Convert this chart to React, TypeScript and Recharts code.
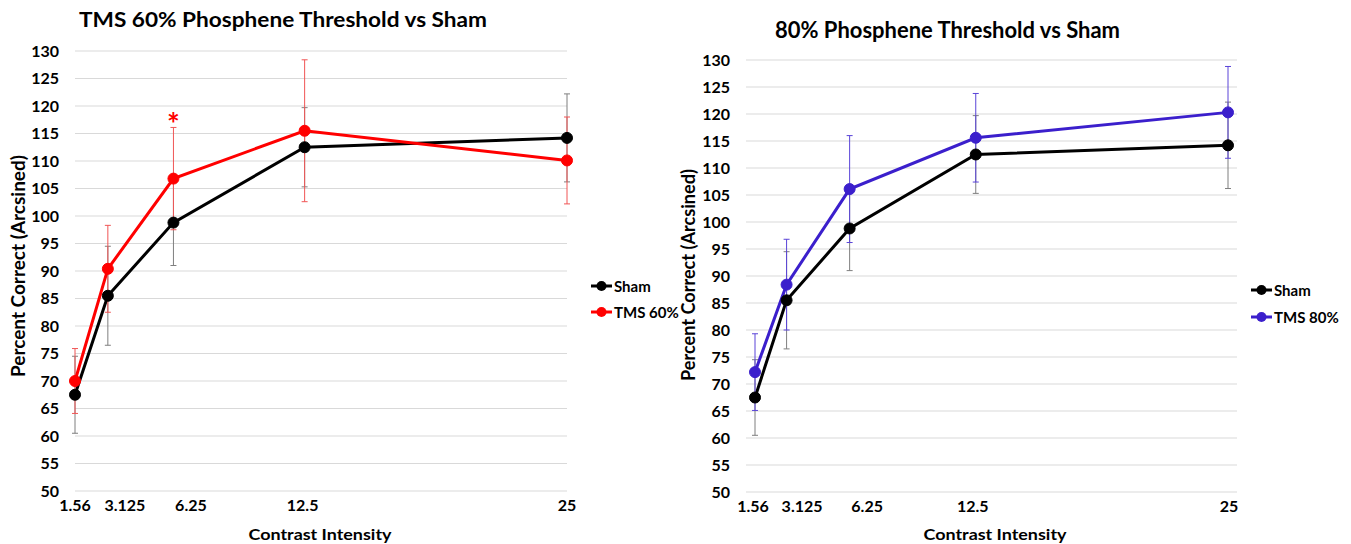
import React from 'react';
import { LineChart, Line, XAxis, YAxis, CartesianGrid, ErrorBar, ReferenceDot } from 'recharts';

// ---- data ----
const contrast = [1.56, 3.125, 6.25, 12.5, 25];
const xTickLabels = ['1.56', '3.125', '6.25', '12.5', '25'];
const yTicks = [50, 55, 60, 65, 70, 75, 80, 85, 90, 95, 100, 105, 110, 115, 120, 125, 130];

const shamMean = [67.5, 85.5, 98.8, 112.5, 114.2];
const shamErr = [7.0, 9.0, 7.8, 7.2, 8.0];

const tms60Mean = [70.0, 90.4, 106.8, 115.5, 110.1];
const tms60Err = [5.9, 7.9, 9.3, 12.9, 7.9];
const tms60Significant = [false, false, true, false, false];

const tms80Mean = [72.2, 88.4, 106.1, 115.6, 120.3];
const tms80Err = [7.1, 8.4, 9.9, 8.2, 8.5];

// ---- style ----
const FONT = 'Lato, "Open Sans", sans-serif';
const BLACK = '#000000';
const RED = '#ff0000';
const BLUE = '#3b1fcc';
// the original tick labels are nudged sideways from their points (manual text placement)
const leftTickNudge = [0, 17, 17.5, -2, 0];
const rightTickNudge = [-2, 15.5, 17.5, -3, 1];

const build = (mean: number[], err: number[]) =>
  contrast.map((x, i) => ({ x, sham: shamMean[i], shamErr: shamErr[i], tms: mean[i], tmsErr: err[i] }));

const leftData = build(tms60Mean, tms60Err);
const rightData = build(tms80Mean, tms80Err);

const tickStyle = { fontFamily: FONT, fontSize: 16, fontWeight: 700, fill: '#000' };

const makeXTick = (nudge: number[]) => (p: any) => {
  const idx = contrast.indexOf(p.payload.value);
  const dx = idx >= 0 ? nudge[idx] : 0;
  return (
    <text
      x={p.x + dx}
      y={p.y}
      dy="0.71em"
      textAnchor="middle"
      fontFamily={FONT}
      fontSize={16}
      fontWeight={700}
      fill="#000"
    >
      {idx >= 0 ? xTickLabels[idx] : String(p.payload.value)}
    </text>
  );
};

function Panel(props: {
  data: any[];
  width: number;
  margin: { top: number; right: number; bottom: number; left: number };
  yWidth: number;
  xHeight: number;
  xPad: number;
  color: string;
  errColor: string;
  nudge: number[];
  sig?: boolean[];
}) {
  const { data, width, margin, yWidth, xHeight, xPad, color, errColor, nudge, sig } = props;
  return (
    <LineChart width={width} height={544} data={data} margin={margin}>
      <CartesianGrid horizontal vertical={false} stroke="#d9d9d9" strokeWidth={1.2} />
      <XAxis
        type="number"
        dataKey="x"
        domain={[1.56, 25]}
        ticks={contrast}
        axisLine={false}
        tickLine={false}
        tickSize={0}
        tickMargin={9}
        height={xHeight}
        padding={{ left: xPad, right: xPad }}
        tick={makeXTick(nudge)}
        interval={0}
      />
      <YAxis
        type="number"
        domain={[50, 130]}
        ticks={yTicks}
        axisLine={false}
        tickLine={false}
        tickSize={0}
        tickMargin={16}
        width={yWidth}
        tick={tickStyle}
        interval={0}
      />
      <Line
        dataKey="sham"
        stroke={BLACK}
        strokeWidth={3}
        dot={{ r: 5.5, fill: BLACK, stroke: BLACK, strokeWidth: 1 }}
        isAnimationActive={false}
      >
        <ErrorBar dataKey="shamErr" direction="y" stroke="#7f7f7f" strokeWidth={1} width={3} />
      </Line>
      <Line
        dataKey="tms"
        stroke={color}
        strokeWidth={3}
        dot={{ r: 5.5, fill: color, stroke: color, strokeWidth: 1 }}
        isAnimationActive={false}
      >
        <ErrorBar dataKey="tmsErr" direction="y" stroke={errColor} strokeWidth={1} width={3} />
      </Line>
      {sig &&
        data.map((d, i) =>
          sig[i] ? (
            <ReferenceDot
              key={i}
              x={d.x}
              y={d.tms + d.tmsErr + 0.5}
              r={0}
              stroke="none"
              fill="none"
              label={{ value: '*', position: 'center', fill: RED, fontSize: 30, fontWeight: 700, fontFamily: FONT }}
            />
          ) : null
        )}
    </LineChart>
  );
}

function LegendItem({ x, y, color, text }: { x: number; y: number; color: string; text: string }) {
  return (
    <g>
      <line x1={x} y1={y} x2={x + 21} y2={y} stroke={color} strokeWidth={3} />
      <circle cx={x + 10.5} cy={y} r={5} fill={color} />
      <text x={x + 23} y={y} dominantBaseline="central" fontFamily={FONT} fontSize={15} fontWeight={700} fill="#000">
        {text}
      </text>
    </g>
  );
}

export default function App() {
  const bold = { fontFamily: FONT, fontWeight: 700, fill: '#000' } as const;
  return (
    <div style={{ position: 'absolute', left: 0, top: 0, width: 1351, height: 544, background: '#fff' }}>
      <div style={{ position: 'absolute', left: 0, top: 0 }}>
        <Panel
          data={leftData}
          width={700}
          margin={{ top: 51, right: 133, bottom: 0, left: 0 }}
          yWidth={75}
          xHeight={53}
          xPad={0}
          color={RED}
          errColor="#f05555"
          nudge={leftTickNudge}
          sig={tms60Significant}
        />
      </div>
      <div style={{ position: 'absolute', left: 670, top: 0 }}>
        <Panel
          data={rightData}
          width={681}
          margin={{ top: 60, right: 114, bottom: 0, left: 0 }}
          yWidth={76}
          xHeight={52}
          xPad={9}
          color={BLUE}
          errColor="#5a44d8"
          nudge={rightTickNudge}
        />
      </div>
      <svg width={1351} height={544} style={{ position: 'absolute', left: 0, top: 0, pointerEvents: 'none' }}>
        <text x={283} y={27} textAnchor="middle" fontSize={21.5} textLength={408} lengthAdjust="spacingAndGlyphs" {...bold}>
          TMS 60% Phosphene Threshold vs Sham
        </text>
        <text x={947.5} y={38} textAnchor="middle" fontSize={22} textLength={345} lengthAdjust="spacingAndGlyphs" {...bold}>
          80% Phosphene Threshold vs Sham
        </text>
        <text
          transform="translate(18,266) rotate(-90)"
          textAnchor="middle"
          dominantBaseline="central"
          fontSize={18}
          textLength={222}
          lengthAdjust="spacingAndGlyphs"
          {...bold}
        >
          Percent Correct (Arcsined)
        </text>
        <text
          transform="translate(688,275) rotate(-90)"
          textAnchor="middle"
          dominantBaseline="central"
          fontSize={18}
          textLength={212}
          lengthAdjust="spacingAndGlyphs"
          {...bold}
        >
          Percent Correct (Arcsined)
        </text>
        <text x={320} y={540} textAnchor="middle" fontSize={15.5} textLength={143} lengthAdjust="spacingAndGlyphs" {...bold}>
          Contrast Intensity
        </text>
        <text x={995} y={540} textAnchor="middle" fontSize={15.5} textLength={143} lengthAdjust="spacingAndGlyphs" {...bold}>
          Contrast Intensity
        </text>
        <LegendItem x={591} y={286} color={BLACK} text="Sham" />
        <LegendItem x={591} y={312} color={RED} text="TMS 60%" />
        <LegendItem x={1251} y={290} color={BLACK} text="Sham" />
        <LegendItem x={1251} y={317} color={BLUE} text="TMS 80%" />
      </svg>
    </div>
  );
}
